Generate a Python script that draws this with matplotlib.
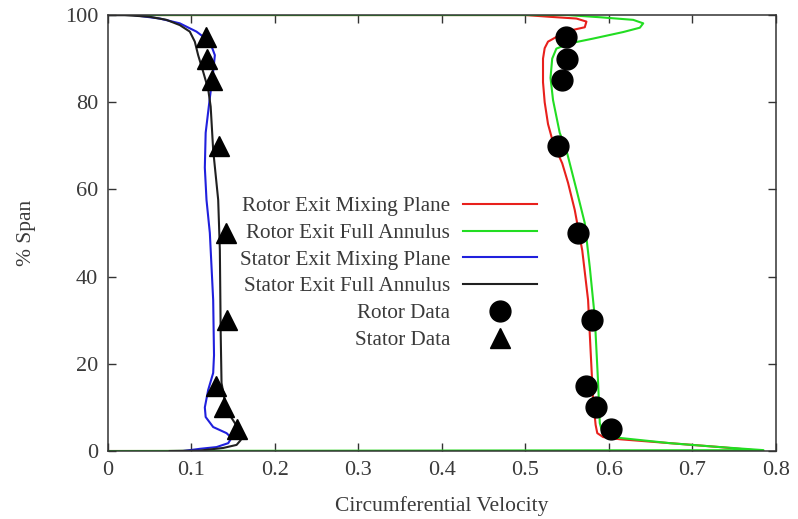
import numpy as np
import matplotlib.pyplot as plt

plt.rcParams['font.family'] = ['Liberation Serif', 'DejaVu Serif']

# rotor exit, mixing plane (red)
rotor_mp_x = [0.0, 0.50, 0.529, 0.561, 0.573, 0.571, 0.557, 0.541, 0.527, 0.523, 0.521,
              0.521, 0.523, 0.527, 0.532, 0.537, 0.544, 0.551, 0.559, 0.568, 0.575,
              0.578, 0.581, 0.584, 0.586, 0.593, 0.613, 0.673, 0.733, 0.785, 0.0]
rotor_mp_y = [100, 100, 99.6, 99.2, 98.5, 97.2, 96.6, 95.4, 93.9, 92.4, 90,
              84.6, 80, 75, 71.5, 69, 66, 61.5, 55.3, 46, 34.6,
              23, 11.7, 6.0, 4.1, 3.2, 2.7, 1.8, 0.9, 0.0, 0.0]

# rotor exit, full annulus (green)
rotor_fa_x = [0.0, 0.55, 0.589, 0.629, 0.641, 0.637, 0.617, 0.581, 0.553, 0.537, 0.532,
              0.530, 0.533, 0.541, 0.549, 0.561, 0.571, 0.577, 0.583, 0.587, 0.589,
              0.593, 0.613, 0.673, 0.733, 0.785, 0.0]
rotor_fa_y = [100, 100, 99.5, 98.9, 98.1, 97.1, 96.1, 94.6, 93.5, 92.3, 90,
              85.6, 80.5, 73, 69, 60, 52.3, 42.2, 30.7, 15.6, 6.4,
              3.7, 3.0, 1.8, 0.9, 0.2, 0.0]

# stator exit, mixing plane (blue)
stator_mp_x = [0.0, 0.03, 0.062, 0.086, 0.106, 0.122, 0.128, 0.126, 0.122, 0.117, 0.116,
               0.118, 0.122, 0.126, 0.127, 0.126, 0.120, 0.116, 0.117, 0.126, 0.142,
               0.148, 0.144, 0.130, 0.110, 0.09]
stator_mp_y = [100, 100, 99.2, 98.1, 96.2, 93.9, 90.8, 87, 81, 73, 65,
               57.6, 50, 34.6, 22, 17.9, 14, 10, 7.8, 5.5, 4.1,
               3.0, 1.8, 0.9, 0.5, 0.0]

# stator exit, full annulus (black)
stator_fa_x = [0.0, 0.02, 0.050, 0.070, 0.086, 0.098, 0.104, 0.108, 0.114, 0.120, 0.123,
               0.126, 0.132, 0.134, 0.135, 0.136, 0.142, 0.152, 0.158, 0.159, 0.154,
               0.138, 0.110, 0.074]
stator_fa_y = [100, 100, 99.6, 98.9, 97.7, 96.2, 93.9, 90.8, 87, 83, 79,
               69, 57.6, 46, 27, 15.6, 9.4, 6.4, 4.1, 2.5, 1.4,
               0.7, 0.1, 0.0]

span_data = [95, 90, 85, 70, 50, 30, 15, 10, 5]
rotor_data = [0.549, 0.550, 0.544, 0.539, 0.563, 0.580, 0.572, 0.585, 0.602]
stator_data = [0.117, 0.118, 0.125, 0.133, 0.141, 0.143, 0.129, 0.139, 0.155]

txt = '#3a3a3a'
fig = plt.figure(figsize=(7.98, 5.19), dpi=100)
ax = fig.add_axes([0.1353, 0.131, 0.8371, 0.840])

ax.plot(rotor_mp_x, rotor_mp_y, color='#e8201c', lw=1.5, label='Rotor Exit Mixing Plane')
ax.plot(rotor_fa_x, rotor_fa_y, color='#22dd22', lw=1.5, label='Rotor Exit Full Annulus')
ax.plot(stator_mp_x, stator_mp_y, color='#2020dd', lw=1.5, label='Stator Exit Mixing Plane')
ax.plot(stator_fa_x, stator_fa_y, color='#202020', lw=1.5, label='Stator Exit Full Annulus')
ax.plot(rotor_data, span_data, 'o', color='black', ms=15, ls='none', label='Rotor Data')
ax.plot(stator_data, span_data, '^', color='black', ms=14.5, ls='none', label='Stator Data')

ax.set_xlim(0, 0.8)
ax.set_ylim(0, 100)
ax.set_xticks(np.arange(0, 0.81, 0.1))
ax.set_xticklabels(['0', '0.1', '0.2', '0.3', '0.4', '0.5', '0.6', '0.7', '0.8'])
ax.set_yticks([0, 20, 40, 60, 80, 100])
ax.tick_params(direction='in', length=6, width=1, top=True, right=True,
               labelsize=16, labelcolor=txt, color='#333333', pad=7)
for s in ax.spines.values():
    s.set_color('#333333')
    s.set_linewidth(1.1)

ax.set_xlabel('Circumferential Velocity', fontsize=15.5, color=txt, labelpad=12)
ax.set_ylabel('% Span', fontsize=15.5, color=txt, labelpad=21)

leg = ax.legend(loc='upper right', bbox_to_anchor=(0.642, 0.584), frameon=False,
                markerfirst=False, numpoints=1, fontsize=15.2, borderpad=0,
                labelspacing=0.33, handlelength=3.5, handletextpad=0.6,
                borderaxespad=0)
for t in leg.get_texts():
    t.set_color(txt)
    t.set_ha('right')

fig.savefig('out.png', dpi=100)
